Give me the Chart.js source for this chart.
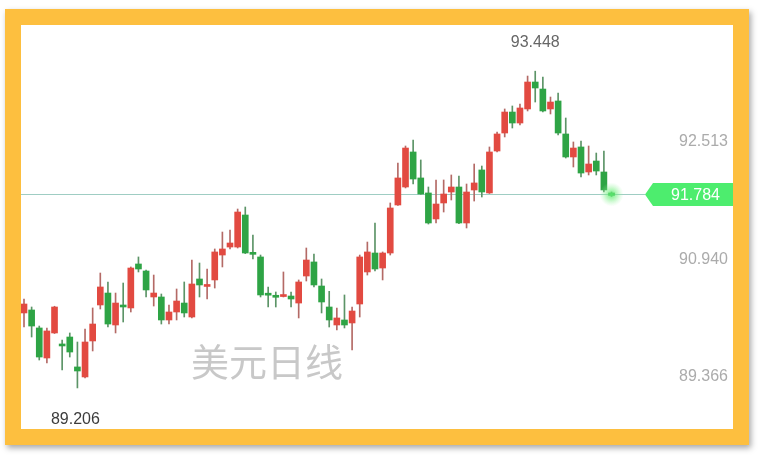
<!DOCTYPE html>
<html><head><meta charset="utf-8">
<script src="https://cdn.jsdelivr.net/npm/chart.js@4.4.0/dist/chart.umd.min.js"></script>
<style>
html,body{margin:0;padding:0;background:#fff;width:761px;height:458px;overflow:hidden;}
#frame{position:absolute;left:5px;top:9px;width:712px;height:404px;border:16px solid #fdbf3f;box-shadow:2px 3px 6px rgba(0,0,0,0.35);background:#fff;}
#wrap{position:absolute;left:0;top:0;width:712px;height:404px;}
</style></head><body>
<div id="frame"><div id="wrap"><canvas id="c"></canvas></div></div>
<script>
const title = '美元日线';
const openP = [90.210,90.250,90.009,89.607,89.942,89.775,89.888,89.487,89.353,89.835,
90.317,90.477,90.049,90.295,90.277,90.866,90.772,90.424,90.424,90.116,
90.223,90.343,90.156,90.665,90.565,90.652,90.986,91.093,91.093,91.522,
91.005,90.960,90.455,90.428,90.430,90.437,90.343,90.705,90.893,90.571,
90.290,90.049,90.116,90.076,90.330,90.759,91.013,90.812,91.013,91.656,
91.897,92.366,92.018,91.817,91.469,91.683,91.830,91.897,91.415,91.857,
92.125,91.817,92.379,92.620,92.901,92.754,92.942,93.303,93.209,92.942,
93.049,92.607,92.299,92.433,92.098,92.245,92.098,91.817];
const highP = [90.397,90.290,90.035,90.009,90.300,89.848,89.942,89.821,89.995,90.277,
90.745,90.625,90.477,90.611,90.826,90.960,90.785,90.718,90.464,90.317,
90.531,90.625,90.919,90.879,90.799,91.067,91.294,91.321,91.602,91.629,
91.254,90.986,90.558,90.491,90.759,90.491,90.652,91.080,91.000,90.665,
90.500,90.277,90.451,90.290,90.986,91.160,91.415,91.027,91.683,92.218,
92.446,92.526,92.259,91.897,91.991,91.991,92.058,92.044,91.937,92.205,
92.178,92.433,92.634,92.942,92.982,93.008,93.383,93.448,93.370,93.102,
93.156,92.821,92.500,92.513,92.446,92.352,92.379,91.830];
const lowP = [90.022,89.888,89.580,89.540,89.935,89.447,89.620,89.206,89.340,89.701,
90.263,90.022,89.942,90.089,90.223,90.759,90.424,90.303,90.062,90.062,
90.116,90.156,90.143,90.424,90.397,90.544,90.826,91.067,91.080,91.005,
90.933,90.424,90.290,90.290,90.424,90.290,90.143,90.638,90.558,90.210,
90.022,89.982,90.009,89.714,90.156,90.718,90.772,90.652,90.986,91.650,
91.884,91.937,91.800,91.401,91.415,91.562,91.723,91.405,91.348,91.709,
91.763,91.810,92.366,92.567,92.687,92.727,92.915,93.035,92.901,92.875,
92.593,92.285,92.165,92.031,92.058,92.058,91.830,91.770];
const closeP = [90.330,90.035,89.620,89.969,90.290,89.768,89.687,89.433,89.821,90.062,
90.558,90.062,90.343,90.290,90.812,90.799,90.518,90.477,90.116,90.223,
90.370,90.210,90.598,90.585,90.575,91.027,91.067,91.147,91.562,91.013,
90.995,90.451,90.448,90.420,90.440,90.397,90.625,90.919,90.585,90.357,
90.116,90.143,90.049,90.236,90.960,91.027,90.799,91.013,91.616,92.018,
92.419,92.004,91.803,91.415,91.669,91.803,91.897,91.415,91.830,91.951,
91.830,92.366,92.607,92.901,92.754,92.955,93.303,93.223,92.915,93.035,
92.620,92.299,92.419,92.084,92.205,92.111,91.857,91.784];
const tickValues = [92.513, 90.940, 89.366];
const tickLabels = ['92.513', '90.940', '89.366'];

const UP = '#e24a41', DOWN = '#2ea445';
const UP_WICK = '#b46a66', DOWN_WICK = '#5c9467';
const isUp = closeP.map((c, i) => c >= openP[i]);
const colors = isUp.map(u => u ? UP : DOWN);
const wickColors = isUp.map(u => u ? UP_WICK : DOWN_WICK);
const wickData = highP.map((h, i) => ({x: i, y: [lowP[i], h]}));
const bodyData = closeP.map((c, i) => ({x: i, y: [openP[i], c]}));

const overlay = {
  id: 'overlay',
  beforeDatasetsDraw(chart) {
    const {ctx, scales: {x, y}} = chart;
    const last = closeP[closeP.length - 1];
    const ly = Math.round(y.getPixelForValue(last)) - 0.5;
    ctx.save();
    ctx.fillStyle = '#c8c8c8';
    ctx.font = '38px "Noto Sans CJK SC"';
    ctx.textAlign = 'center';
    ctx.textBaseline = 'middle';
    ctx.fillText(title, 246, 337);
    ctx.strokeStyle = '#9fcdc3';
    ctx.lineWidth = 1;
    ctx.beginPath();
    ctx.moveTo(0, ly);
    ctx.lineTo(624, ly);
    ctx.stroke();
    ctx.restore();
  },
  afterDatasetsDraw(chart) {
    const {ctx, scales: {x, y}} = chart;
    const n = closeP.length;
    const last = closeP[n - 1];
    const ly = y.getPixelForValue(last) - 1;
    ctx.save();
    const gx = x.getPixelForValue(n - 1);
    const g = ctx.createRadialGradient(gx, ly, 0, gx, ly, 12);
    g.addColorStop(0, 'rgba(90,235,110,0.9)');
    g.addColorStop(0.5, 'rgba(120,240,130,0.45)');
    g.addColorStop(1, 'rgba(160,245,170,0)');
    ctx.fillStyle = g;
    ctx.beginPath();
    ctx.arc(gx, ly, 12, 0, Math.PI * 2);
    ctx.fill();
    ctx.fillStyle = '#4ded6e';
    ctx.beginPath();
    ctx.moveTo(624, ly);
    ctx.lineTo(632, ly - 11.5);
    ctx.lineTo(712, ly - 11.5);
    ctx.lineTo(712, ly + 11.5);
    ctx.lineTo(632, ly + 11.5);
    ctx.closePath();
    ctx.fill();
    ctx.fillStyle = '#ffffff';
    ctx.font = '16px "Liberation Sans", Arial, sans-serif';
    ctx.textAlign = 'right';
    ctx.textBaseline = 'middle';
    ctx.fillText(last.toFixed(3), 699, ly + 1);
    ctx.fillStyle = '#ababab';
    tickValues.forEach((v, i) => {
      ctx.fillText(tickLabels[i], 707, y.getPixelForValue(v) + 1);
    });
    let hi = 0, lo = 0;
    highP.forEach((h, i) => { if (h > highP[hi]) hi = i; });
    lowP.forEach((l, i) => { if (l < lowP[lo]) lo = i; });
    ctx.textAlign = 'center';
    ctx.fillStyle = '#666666';
    ctx.fillText(highP[hi].toFixed(3), x.getPixelForValue(hi), y.getPixelForValue(highP[hi]) - 29);
    ctx.fillStyle = '#3c3c3c';
    ctx.fillText(lowP[lo].toFixed(3), x.getPixelForValue(lo) - 2, y.getPixelForValue(lowP[lo]) + 32);
    ctx.restore();
  }
};

new Chart(document.getElementById('c'), {
  type: 'bar',
  data: {
    datasets: [
      {data: wickData, backgroundColor: wickColors, barThickness: 1, grouped: false, order: 2},
      {data: bodyData, backgroundColor: colors, barThickness: 6, grouped: false, minBarLength: 2, order: 1}
    ]
  },
  options: {
    responsive: true,
    maintainAspectRatio: false,
    animation: false,
    layout: {padding: 0},
    plugins: {legend: {display: false}, tooltip: {enabled: false}},
    scales: {
      x: {type: 'linear', min: -0.393, max: 92.92, offset: false, display: false},
      y: {type: 'linear', min: 88.656, max: 94.0665, display: false}
    }
  },
  plugins: [overlay]
});
</script>
</body></html>
